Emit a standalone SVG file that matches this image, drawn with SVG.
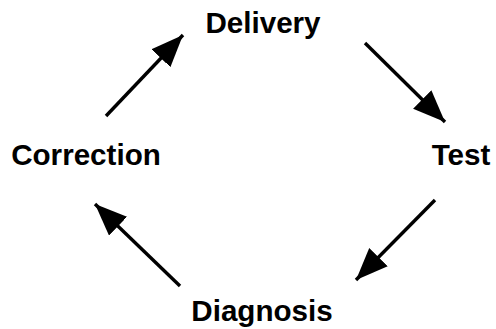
<svg xmlns="http://www.w3.org/2000/svg" width="496" height="329" viewBox="0 0 496 329">
<style>
.lbl{font-family:"Liberation Sans",Arial,sans-serif;font-weight:bold;font-size:29.6px;fill:#000;text-anchor:middle}
.con{stroke:#000;stroke-width:3.4;fill:none}
</style>
<defs>
<marker id="ah" markerUnits="userSpaceOnUse" markerWidth="34" markerHeight="28" refX="32" refY="13" orient="auto" viewBox="0 0 34 28">
<path d="M0,0 L32,13 L0,26 z" fill="#000"/>
</marker>
</defs>
<rect width="496" height="329" fill="#fff"/>
<g id="delivery"><text class="lbl" x="263" y="33">Delivery</text></g>
<g id="test"><text class="lbl" x="461" y="165">Test</text></g>
<g id="correction"><text class="lbl" x="86" y="165">Correction</text></g>
<g id="diagnosis"><text class="lbl" x="262" y="321">Diagnosis</text></g>
<g id="connectors">
<path class="con" d="M106,116 L183,35" marker-end="url(#ah)"/>
<path class="con" d="M365,43 L445,122" marker-end="url(#ah)"/>
<path class="con" d="M435,200 L356,280" marker-end="url(#ah)"/>
<path class="con" d="M180,286 L95,204" marker-end="url(#ah)"/>
</g>
</svg>
